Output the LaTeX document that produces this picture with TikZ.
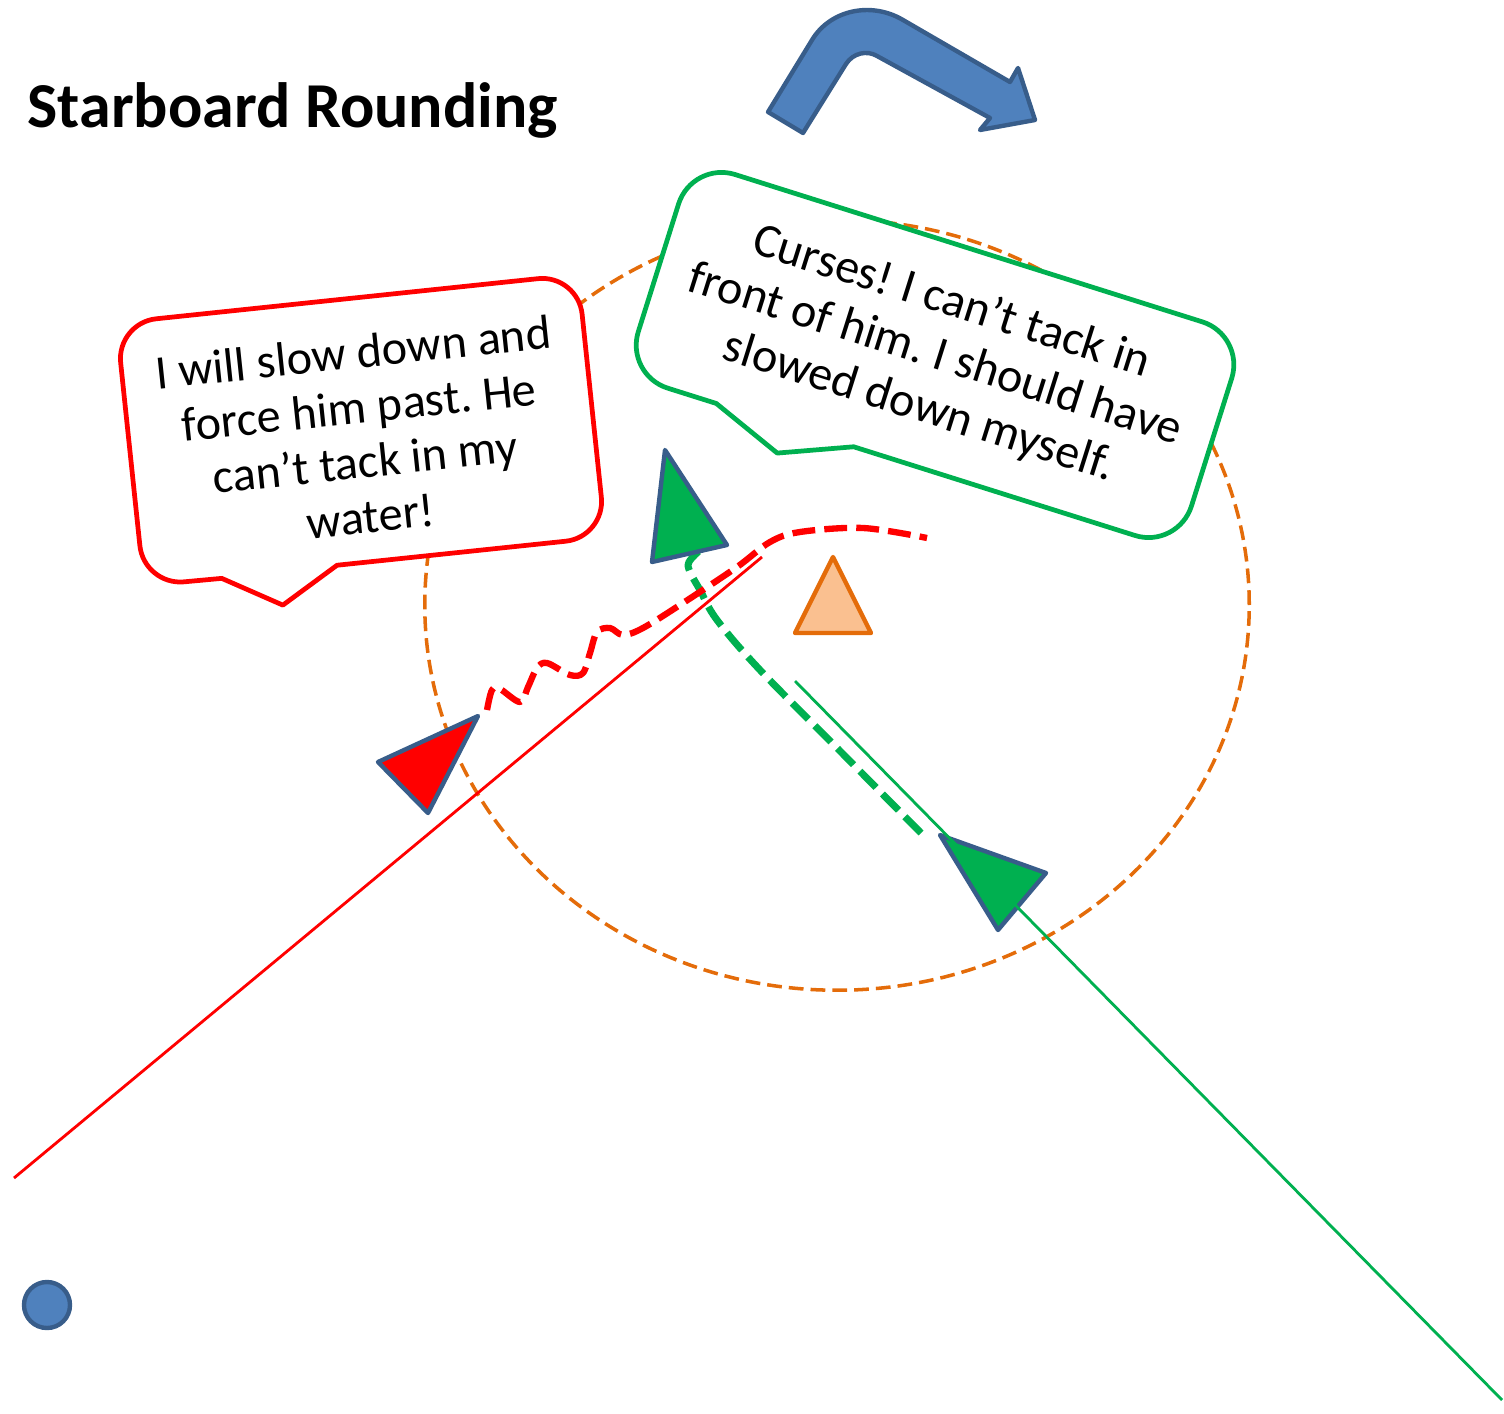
\documentclass[tikz,border=0pt]{standalone}
\usepackage{fontspec}
\setmainfont{Carlito}
\definecolor{boatedge}{HTML}{385D8A}
\definecolor{bluefill}{HTML}{4F81BD}
\definecolor{redc}{HTML}{FF0000}
\definecolor{greenc}{HTML}{00B050}
\definecolor{orangec}{HTML}{E46C0A}
\definecolor{markfill}{HTML}{FAC090}
\frenchspacing

\begin{document}
\begin{tikzpicture}[x=0.01cm, y=-0.01cm, line join=round,
  boat/.style={draw=boatedge, line width=1.25pt},
  bubble/.style={line width=1.35pt, fill=white},
  saying/.style={align=center, font=\fontsize{13.7}{15.6}\selectfont, inner sep=0pt},
  track/.style={line width=1.8pt, dash pattern=on 6.5pt off 2.6pt}]
\useasboundingbox (0,0) rectangle (1504,1413);
\node[anchor=base west, inner sep=0pt, font=\fontsize{18.2}{22}\selectfont\bfseries] (title) at (27,128) {Starboard Rounding};
\draw[boat, fill=bluefill] (803,133) -- (768,112) -- (812,40) .. controls (830,10) and (871,1) .. (903,20) -- (1010,82) -- (1018,68) -- (1035,120) -- (980,130) -- (990,118) -- (877,56) .. controls (867,50) and (853,53) .. (846,64) -- cycle;
\draw[orangec, line width=1pt, dash pattern=on 4.2pt off 2pt] (837,605) ellipse[x radius=4.12cm, y radius=3.85cm];
\begin{scope}[shift={(361,430)}, rotate=6]
  \draw[bubble, draw=redc] (-38,132) [sharp corners] -- (-96,166) -- (-154,133) [rounded corners=0.4cm] -- (-232,132) -- (-232,-132) -- (232,-132) -- (232,132) [sharp corners] -- cycle;
\end{scope}
\begin{scope}[shift={(935,355)}, rotate=-17.5]
  \draw[bubble, draw=greenc] (-50,112) [sharp corners] -- (-121,141) -- (-194,112) [rounded corners=0.45cm] -- (-290,112) -- (-290,-112) -- (290,-112) -- (290,112) [sharp corners] -- cycle;
\end{scope}
\node[saying, rotate=6] (redsay) at (362,434) {I will slow down and\\ force him past. He\\ can’t tack in my\\ water!};
\node[saying, rotate=-17.5] (greensay) at (935,355) {Curses! I can’t tack in\\ front of him. I should have\\ slowed down myself.};
\draw[redc, line width=0.8pt] (14,1178) -- (762,557);
\draw[track, greenc, line width=2pt] plot[smooth, tension=0.6] coordinates {(921,833) (840,751) (760,670) (717,620) (700,590) (690,572) (689,562) (700,550)};
\draw[track, redc] plot[smooth, tension=0.55] coordinates {(487,710) (492,690) (500,689) (520,702) (528,687) (537,668) (547,663) (570,675) (583,673) (590,653) (597,632) (610,628) (623,635) (643,628) (683,603) (737,567) (770,542) (800,532) (863,528) (927,538)};
\draw[boat, fill=redc] (378,762) -- (478,716) -- (428,813) -- cycle;
\draw[boat, fill=greenc] (665,450) -- (727,545) -- (652,562) -- cycle;
\draw[boat, fill=greenc] (940,835) -- (1046,873) -- (998,930) -- cycle;
\draw[greenc, line width=0.8pt] (795,681) -- (1502,1400);
\draw[orangec, line width=1.25pt, fill=markfill] (833,557) -- (871,633) -- (795,633) -- cycle;
\draw[boat, fill=bluefill] (47,1305) circle[radius=0.23cm];
\end{tikzpicture}
\end{document}
